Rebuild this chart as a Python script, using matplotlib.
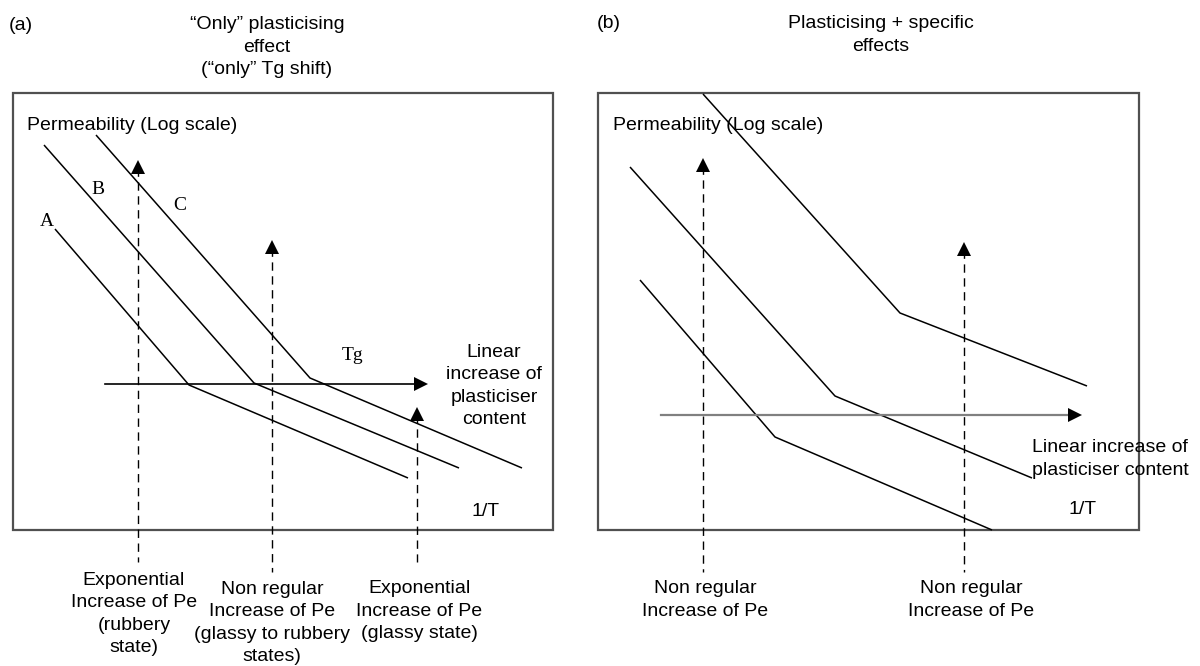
import matplotlib
matplotlib.use("Agg")
import matplotlib.pyplot as plt
from matplotlib.patches import Rectangle

# schematic drawn in pixel coordinates of the 1200x666 picture (y down)
W, H = 1200, 666

# panel boxes: (x0, y0, x1, y1)
box_a = (13, 93, 553, 530)
box_b = (598, 93, 1139, 530)

# panel (a): curves A, B, C  (rubbery start, Tg break, glassy end)
curve_a_x = [55, 189, 408]
curve_a_y = [229, 385, 478]
curve_b_x = [44, 254, 459]
curve_b_y = [145, 383, 468]
curve_c_x = [96, 310, 522]
curve_c_y = [135, 378, 468]
curve_labels = ["A", "B", "C"]
curve_label_x = [47, 98, 180]
curve_label_y = [222, 190, 206]

# panel (b): three curves
curve_b1_x = [640, 775, 992]
curve_b1_y = [280, 437, 530]
curve_b2_x = [630, 835, 1032]
curve_b2_y = [167, 396, 478]
curve_b3_x = [703, 900, 1087]
curve_b3_y = [94, 313, 386]

# dashed vertical arrows: x, tip y, bottom y
dash_a_x = [138, 272, 417]
dash_a_tip = [160, 240, 407]
dash_a_bot = [562, 572, 562]
dash_b_x = [703, 964]
dash_b_tip = [158, 242]
dash_b_bot = [572, 572]

labels_a = ["Exponential\nIncrease of Pe\n(rubbery\nstate)",
            "Non regular\nIncrease of Pe\n(glassy to rubbery\nstates)",
            "Exponential\nIncrease of Pe\n(glassy state)"]
labels_a_x = [134, 272, 419]
labels_a_y = [614, 623, 611]
labels_b = ["Non regular\nIncrease of Pe", "Non regular\nIncrease of Pe"]
labels_b_x = [705, 971]
labels_b_y = [600, 600]

fig = plt.figure(figsize=(12, 6.66), dpi=100)
ax = fig.add_axes([0, 0, 1, 1])
ax.set_xlim(0, W)
ax.set_ylim(H, 0)
ax.axis("off")

sans = "Liberation Sans"
serif = "Liberation Serif"
fs = 14
ls = 1.42

for (x0, y0, x1, y1) in [box_a, box_b]:
    ax.add_patch(Rectangle((x0, y0), x1 - x0, y1 - y0, fill=False,
                           edgecolor="#505050", lw=1.6))

for xs, ys in [(curve_a_x, curve_a_y), (curve_b_x, curve_b_y),
               (curve_c_x, curve_c_y), (curve_b1_x, curve_b1_y),
               (curve_b2_x, curve_b2_y), (curve_b3_x, curve_b3_y)]:
    ax.plot(xs, ys, color="black", lw=1.1, solid_capstyle="butt")

for lab, lx, ly in zip(curve_labels, curve_label_x, curve_label_y):
    ax.text(lx, ly, lab, fontsize=fs, family=serif, ha="center", va="center")
ax.text(352, 355, "Tg", fontsize=fs, family=serif, ha="center", va="center")


def dashed_arrow(x, tip, bot):
    ax.plot([x, x], [tip + 8, bot], color="black", lw=1.0, dashes=(6, 4))
    ax.plot([x], [tip + 7], marker="^", color="black", markersize=10,
            markeredgewidth=0)


for x, t, b in zip(dash_a_x, dash_a_tip, dash_a_bot):
    dashed_arrow(x, t, b)
for x, t, b in zip(dash_b_x, dash_b_tip, dash_b_bot):
    dashed_arrow(x, t, b)

# horizontal "plasticiser content" arrows
ax.plot([105, 418], [384, 384], color="black", lw=1.2)
ax.plot([421], [384], marker=">", color="black", markersize=10, markeredgewidth=0)
ax.plot([661, 1072], [415, 415], color="#808080", lw=1.6)
ax.plot([1075], [415], marker=">", color="black", markersize=10, markeredgewidth=0)

ax.text(9, 25, "(a)", fontsize=fs, family=sans, ha="left", va="center")
ax.text(597, 24, "(b)", fontsize=fs, family=sans, ha="left", va="center")
ax.text(267, 47, "\u201cOnly\u201d plasticising\neffect\n(\u201conly\u201d Tg shift)",
        fontsize=fs, family=sans, ha="center", va="center", linespacing=ls)
ax.text(881, 35, "Plasticising + specific\neffects",
        fontsize=fs, family=sans, ha="center", va="center", linespacing=ls)
ax.text(27, 125, "Permeability (Log scale)", fontsize=fs, family=sans,
        ha="left", va="center")
ax.text(613, 126, "Permeability (Log scale)", fontsize=fs, family=sans,
        ha="left", va="center")
ax.text(494, 386, "Linear\nincrease of\nplasticiser\ncontent", fontsize=fs,
        family=sans, ha="center", va="center", linespacing=ls)
ax.text(1110, 459, "Linear increase of\nplasticiser content", fontsize=fs,
        family=sans, ha="center", va="center", linespacing=ls)
ax.text(486, 512, "1/T", fontsize=fs, family=sans, ha="center", va="center")
ax.text(1083, 509, "1/T", fontsize=fs, family=sans, ha="center", va="center")

for lab, lx, ly in zip(labels_a, labels_a_x, labels_a_y):
    ax.text(lx, ly, lab, fontsize=fs, family=sans, ha="center", va="center",
            linespacing=ls)
for lab, lx, ly in zip(labels_b, labels_b_x, labels_b_y):
    ax.text(lx, ly, lab, fontsize=fs, family=sans, ha="center", va="center",
            linespacing=ls)

fig.savefig("out.png", dpi=100)
